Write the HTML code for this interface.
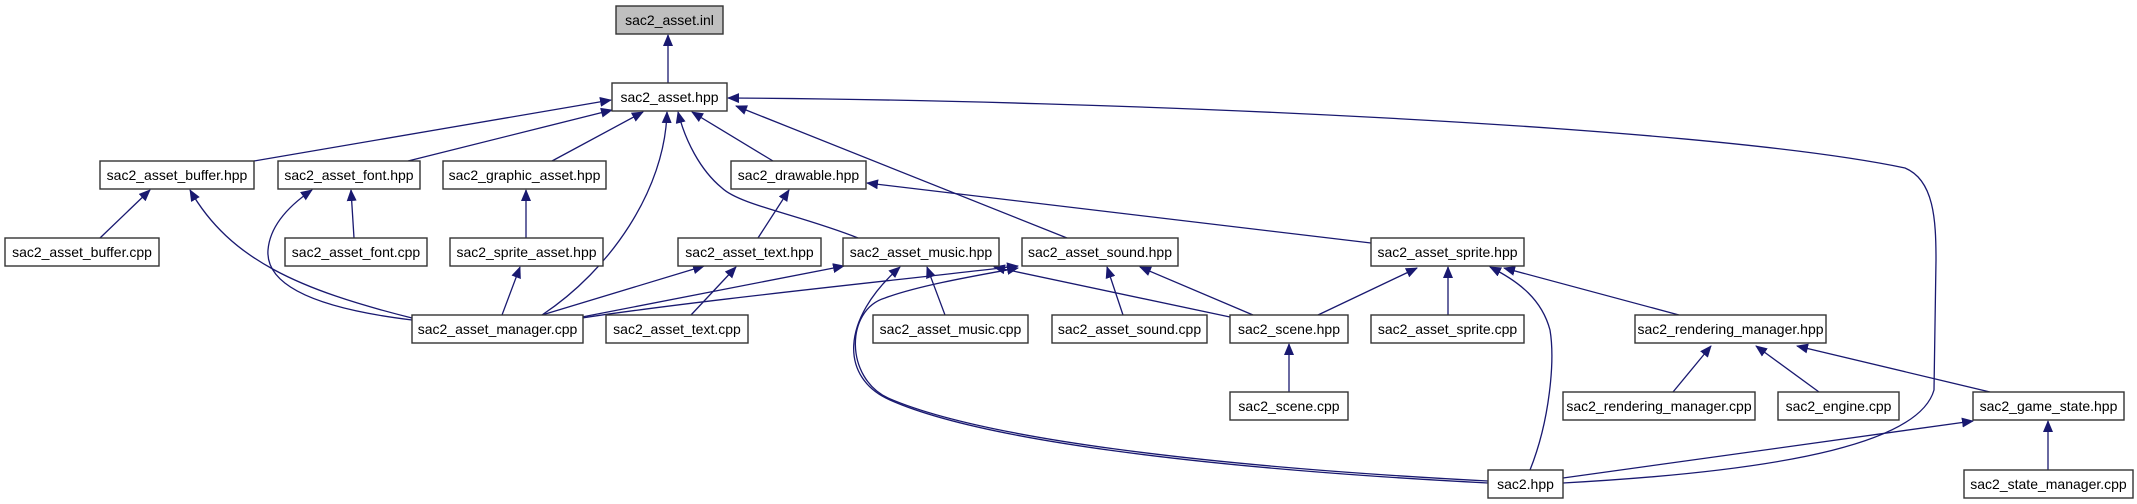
<!DOCTYPE html>
<html><head><meta charset="utf-8"><style>
html,body{margin:0;padding:0;background:#fff;}
svg{display:block;}
text{font-family:"Liberation Sans",Arial,sans-serif;font-size:14px;fill:#000;text-anchor:middle;}
.n{fill:#fff;stroke:#333;stroke-width:1.4;}
.e{fill:none;stroke:#191970;stroke-width:1.3;}
</style></head><body>
<svg width="2137" height="504" viewBox="0 0 2137 504" xmlns="http://www.w3.org/2000/svg">
<defs>
<marker id="a" viewBox="0 0 12 10" refX="11" refY="5" markerWidth="12" markerHeight="10" markerUnits="userSpaceOnUse" orient="auto">
<path d="M0,0 L12,5 L0,10 z" fill="#191970"/>
</marker>
</defs>
<g class="edges">
<path class="e" marker-end="url(#a)" d="M668,83 L668,35"/>
<path class="e" marker-end="url(#a)" d="M254,161 L611,100"/>
<path class="e" marker-end="url(#a)" d="M408,161 L612,110"/>
<path class="e" marker-end="url(#a)" d="M552,161 L643,112"/>
<path class="e" marker-end="url(#a)" d="M542,315 C610,270 665,190 667,112"/>
<path class="e" marker-end="url(#a)" d="M858,238 C800,215 740,205 722,188 C700,170 685,140 678,112"/>
<path class="e" marker-end="url(#a)" d="M773,161 L692,112"/>
<path class="e" marker-end="url(#a)" d="M1067,238 L736,106"/>
<path class="e" marker-end="url(#a)" d="M1563,483 C1800,470 1920,440 1934,390 L1936,260 C1936,220 1934,180 1905,168 C1700,125 1100,100 728,98"/>
<path class="e" marker-end="url(#a)" d="M100,238 L150,190"/>
<path class="e" marker-end="url(#a)" d="M412,318 C300,290 230,260 190,190"/>
<path class="e" marker-end="url(#a)" d="M354,238 L351,190"/>
<path class="e" marker-end="url(#a)" d="M412,320 C330,310 265,290 268,250 C270,225 290,205 312,190"/>
<path class="e" marker-end="url(#a)" d="M526,238 L526,190"/>
<path class="e" marker-end="url(#a)" d="M502,315 L520,267"/>
<path class="e" marker-end="url(#a)" d="M542,315 L704,266"/>
<path class="e" marker-end="url(#a)" d="M582,317 L844,266"/>
<path class="e" marker-end="url(#a)" d="M582,318 C700,300 900,280 1018,266"/>
<path class="e" marker-end="url(#a)" d="M758,238 L789,190"/>
<path class="e" marker-end="url(#a)" d="M691,315 L736,267"/>
<path class="e" marker-end="url(#a)" d="M1488,483 C1200,468 980,440 890,400 C840,378 840,320 900,267"/>
<path class="e" marker-end="url(#a)" d="M1488,481 C1200,466 980,438 888,398 C845,378 845,310 885,298 C920,285 980,275 1018,268"/>
<path class="e" marker-end="url(#a)" d="M945,315 L927,267"/>
<path class="e" marker-end="url(#a)" d="M1230,317 L994,267"/>
<path class="e" marker-end="url(#a)" d="M1123,315 L1107,267"/>
<path class="e" marker-end="url(#a)" d="M1253,315 L1140,267"/>
<path class="e" marker-end="url(#a)" d="M1318,315 L1417,268"/>
<path class="e" marker-end="url(#a)" d="M1448,315 L1448,267"/>
<path class="e" marker-end="url(#a)" d="M1289,392 L1289,344"/>
<path class="e" marker-end="url(#a)" d="M1371,243 L867,183"/>
<path class="e" marker-end="url(#a)" d="M1679,315 L1504,268"/>
<path class="e" marker-end="url(#a)" d="M1530,470 C1550,420 1555,360 1550,330 C1542,300 1520,282 1490,267"/>
<path class="e" marker-end="url(#a)" d="M1673,392 L1711,346"/>
<path class="e" marker-end="url(#a)" d="M1819,392 L1756,346"/>
<path class="e" marker-end="url(#a)" d="M1990,392 L1797,346"/>
<path class="e" marker-end="url(#a)" d="M1563,478 L1973,421"/>
<path class="e" marker-end="url(#a)" d="M2048,470 L2048,421"/>
</g>
<g class="nodes">
<rect x="616" y="6" width="107" height="28" style="fill:#bfbfbf;stroke:#333;stroke-width:1.4"/><text x="669.5" y="25">sac2_asset.inl</text>
<rect class="n" x="612" y="83" width="115" height="28"/><text x="669.5" y="102">sac2_asset.hpp</text>
<rect class="n" x="100" y="161" width="154" height="28"/><text x="177" y="180">sac2_asset_buffer.hpp</text>
<rect class="n" x="278" y="161" width="142" height="28"/><text x="349" y="180">sac2_asset_font.hpp</text>
<rect class="n" x="443" y="161" width="163" height="28"/><text x="524.5" y="180">sac2_graphic_asset.hpp</text>
<rect class="n" x="731" y="161" width="135" height="28"/><text x="798.5" y="180">sac2_drawable.hpp</text>
<rect class="n" x="5" y="238" width="154" height="28"/><text x="82" y="257">sac2_asset_buffer.cpp</text>
<rect class="n" x="285" y="238" width="142" height="28"/><text x="356" y="257">sac2_asset_font.cpp</text>
<rect class="n" x="450" y="238" width="153" height="28"/><text x="526.5" y="257">sac2_sprite_asset.hpp</text>
<rect class="n" x="678" y="238" width="143" height="28"/><text x="749.5" y="257">sac2_asset_text.hpp</text>
<rect class="n" x="843" y="238" width="156" height="28"/><text x="921" y="257">sac2_asset_music.hpp</text>
<rect class="n" x="1022" y="238" width="156" height="28"/><text x="1100" y="257">sac2_asset_sound.hpp</text>
<rect class="n" x="1371" y="238" width="153" height="28"/><text x="1447.5" y="257">sac2_asset_sprite.hpp</text>
<rect class="n" x="412" y="315" width="171" height="28"/><text x="497.5" y="334">sac2_asset_manager.cpp</text>
<rect class="n" x="606" y="315" width="142" height="28"/><text x="677" y="334">sac2_asset_text.cpp</text>
<rect class="n" x="873" y="315" width="155" height="28"/><text x="950.5" y="334">sac2_asset_music.cpp</text>
<rect class="n" x="1052" y="315" width="155" height="28"/><text x="1129.5" y="334">sac2_asset_sound.cpp</text>
<rect class="n" x="1230" y="315" width="118" height="28"/><text x="1289" y="334">sac2_scene.hpp</text>
<rect class="n" x="1371" y="315" width="153" height="28"/><text x="1447.5" y="334">sac2_asset_sprite.cpp</text>
<rect class="n" x="1635" y="315" width="191" height="28"/><text x="1730.5" y="334">sac2_rendering_manager.hpp</text>
<rect class="n" x="1230" y="392" width="118" height="28"/><text x="1289" y="411">sac2_scene.cpp</text>
<rect class="n" x="1563" y="392" width="192" height="28"/><text x="1659" y="411">sac2_rendering_manager.cpp</text>
<rect class="n" x="1778" y="392" width="121" height="28"/><text x="1838.5" y="411">sac2_engine.cpp</text>
<rect class="n" x="1973" y="392" width="151" height="28"/><text x="2048.5" y="411">sac2_game_state.hpp</text>
<rect class="n" x="1488" y="470" width="75" height="28"/><text x="1525.5" y="489">sac2.hpp</text>
<rect class="n" x="1964" y="470" width="169" height="28"/><text x="2048.5" y="489">sac2_state_manager.cpp</text>
</g>
</svg>
</body></html>
